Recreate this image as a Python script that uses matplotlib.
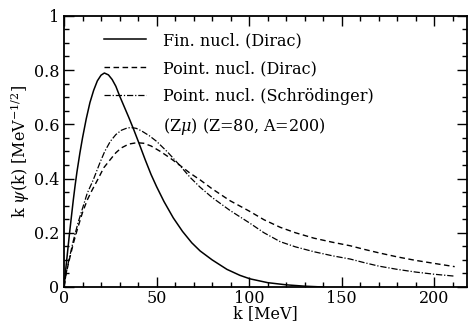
import numpy as np
from matplotlib import pyplot as plt
from matplotlib.ticker import MultipleLocator, FixedFormatter, FixedLocator

# finite nucleus, Dirac
k_fin = [0, 1, 2, 3, 4, 5, 6, 7, 8.6, 10, 12, 14, 16, 18, 20, 21.8, 24, 26, 28, 30, 32.5, 35, 37.5,
         40.5, 43.8, 47, 50, 54, 59, 64, 69, 73.5, 80, 88, 95, 100.5, 110, 120, 130, 140]
psi_fin = [0, 0.07, 0.135, 0.2, 0.26, 0.32, 0.375, 0.425, 0.495, 0.55, 0.62, 0.68, 0.725, 0.76, 0.781, 0.789,
           0.782, 0.765, 0.74, 0.705, 0.665, 0.625, 0.583, 0.53, 0.47, 0.415, 0.37, 0.315, 0.255, 0.205,
           0.163, 0.133, 0.10, 0.065, 0.043, 0.03, 0.016, 0.008, 0.003, 0.0]

# point nucleus, Dirac
k_pd = [0, 1, 2.5, 5, 7.5, 10, 12.5, 15, 18.5, 21.5, 24.9, 28, 31, 35, 39.3, 43, 47, 52, 57, 62.7, 68,
        73.5, 80, 89.7, 100, 108, 116.8, 125, 135, 145, 154.6, 162, 170, 180, 190, 200, 211]
psi_pd = [0, 0.045, 0.09, 0.16, 0.22, 0.275, 0.32, 0.355, 0.40, 0.44, 0.469, 0.495, 0.513, 0.527, 0.532,
          0.53, 0.52, 0.50, 0.477, 0.448, 0.42, 0.395, 0.362, 0.318, 0.28, 0.248, 0.22, 0.2, 0.18, 0.165,
          0.152, 0.139, 0.126, 0.111, 0.098, 0.087, 0.075]

# point nucleus, Schroedinger
k_ps = [0, 1, 2.5, 5, 7.5, 10, 12.5, 15.8, 19.5, 22, 25, 28, 31, 34, 36.2, 39, 42, 46, 50, 56, 62.7, 68,
        73.5, 80, 89.7, 100, 108, 116.8, 125, 135, 145, 154.6, 162, 170, 180, 190, 200, 211]
psi_ps = [0, 0.045, 0.095, 0.17, 0.235, 0.29, 0.345, 0.395, 0.46, 0.5, 0.537, 0.562, 0.578, 0.586, 0.588,
          0.585, 0.575, 0.558, 0.537, 0.497, 0.447, 0.405, 0.368, 0.33, 0.282, 0.237, 0.2, 0.167, 0.148,
          0.13, 0.115, 0.103, 0.09, 0.077, 0.065, 0.055, 0.047, 0.04]

plt.rcParams['font.family'] = 'DejaVu Serif'
plt.rcParams['mathtext.fontset'] = 'dejavuserif'

fig = plt.figure(figsize=(4.69, 3.22), dpi=100)
ax = fig.add_axes([0.1365, 0.1087, 0.859, 0.8423])

ax.plot(k_fin, psi_fin, color='black', lw=1.1, label='Fin. nucl. (Dirac)')
ax.plot(k_pd, psi_pd, color='black', lw=1.0, dashes=(4, 2.5), label='Point. nucl. (Dirac)')
ax.plot(k_ps, psi_ps, color='black', lw=0.9, dashes=(5, 1.5, 1, 1.5), label='Point. nucl. (Schrödinger)')
ax.plot([], [], color='none', label=r'(Z$\mu$) (Z=80, A=200)')

ax.set_xlim(0, 217.6)
ax.set_ylim(0, 1)
ax.xaxis.set_major_locator(MultipleLocator(50))
ax.xaxis.set_minor_locator(MultipleLocator(10))
ax.yaxis.set_major_locator(FixedLocator([0, 0.2, 0.4, 0.6, 0.8, 1.0]))
ax.yaxis.set_major_formatter(FixedFormatter(['0', '0.2', '0.4', '0.6', '0.8', '1']))
ax.yaxis.set_minor_locator(MultipleLocator(0.05))
ax.tick_params(which='both', direction='in', top=True, right=True, labelsize=11.5, width=1.0)
ax.tick_params(axis='x', which='both', pad=2)
ax.tick_params(which='major', length=7)
ax.tick_params(which='minor', length=3.5)
for s in ax.spines.values():
    s.set_linewidth(1.3)

ax.set_xlabel('k [MeV]', fontsize=11.5, labelpad=-1)
ax.set_ylabel(r'k $\psi$(k) [MeV$^{-1/2}$]', fontsize=11.5, labelpad=1)

ax.legend(loc='upper left', bbox_to_anchor=(0.1, 0.94), frameon=False, fontsize=11.5,
          handlelength=2.6, handletextpad=1.1, labelspacing=0.68, borderpad=0, borderaxespad=0)

plt.savefig('out.png', dpi=100)
